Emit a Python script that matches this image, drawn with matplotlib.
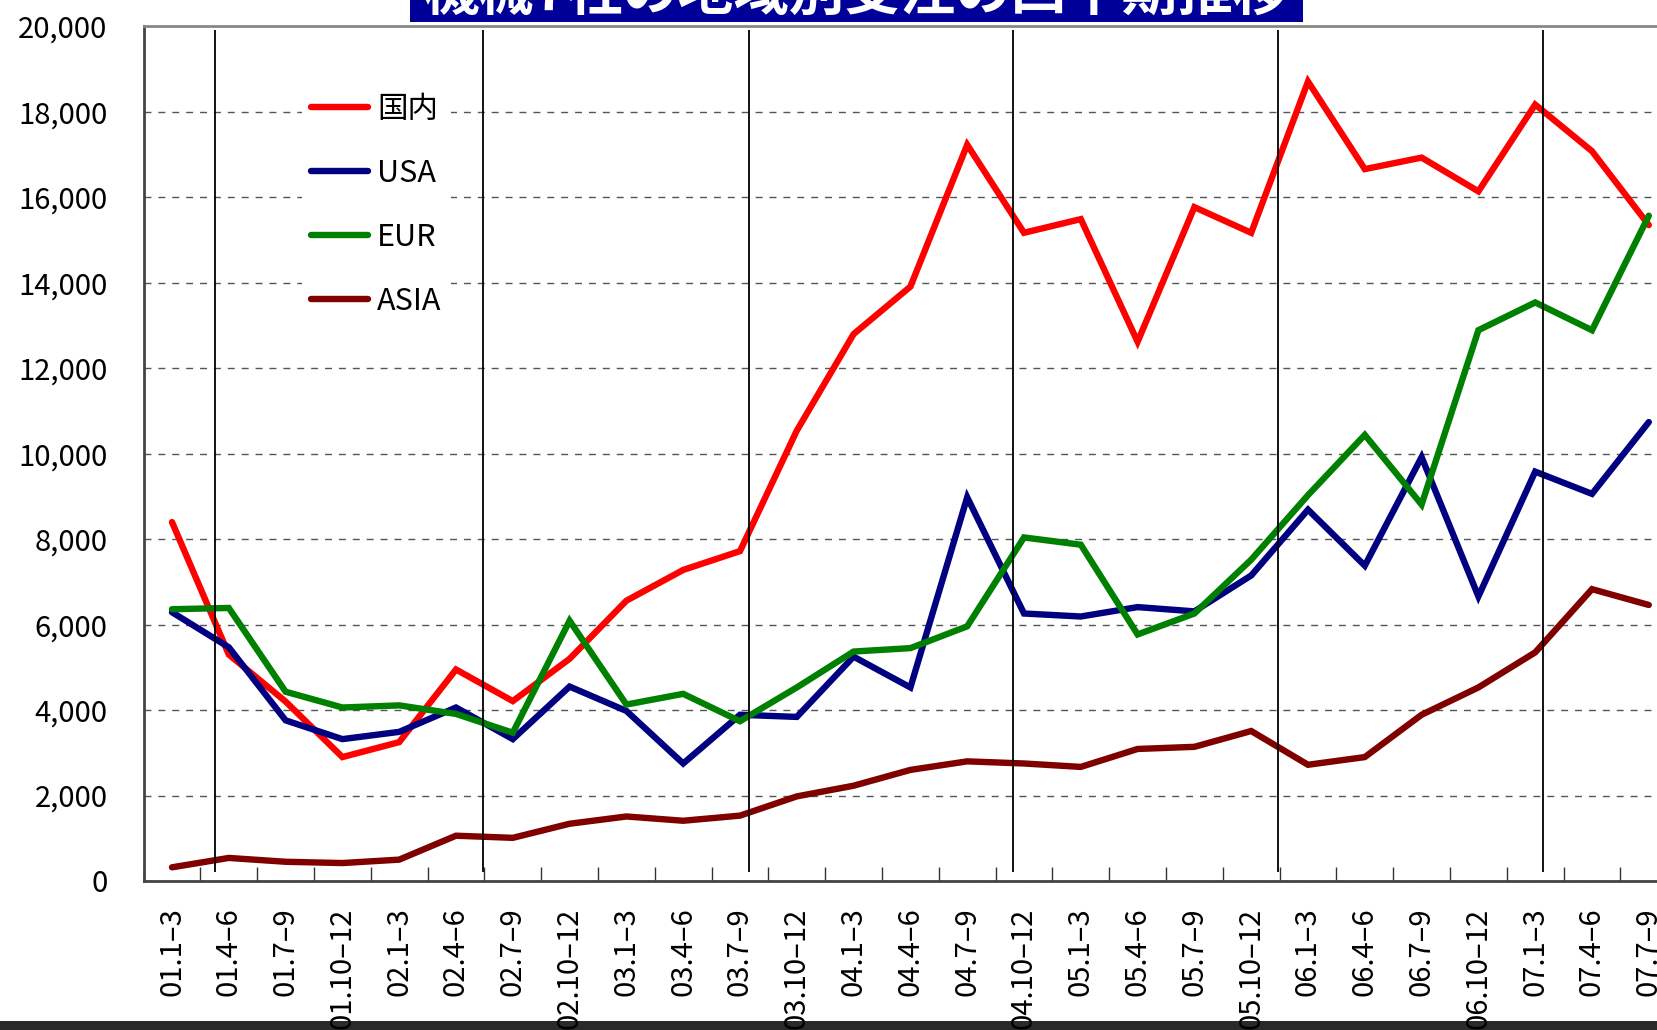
import numpy as np
import matplotlib as mpl
mpl.use('Agg')
from matplotlib import pyplot as plt
from matplotlib.patches import Rectangle
from matplotlib.ticker import FuncFormatter, MultipleLocator

plt.rcParams['font.family'] = ['Noto Sans CJK JP', 'DejaVu Sans']

# quarters 2001 Q1 .. 2007 Q3
quarters = ['01.1–3', '01.4–6', '01.7–9', '01.10–12',
            '02.1–3', '02.4–6', '02.7–9', '02.10–12',
            '03.1–3', '03.4–6', '03.7–9', '03.10–12',
            '04.1–3', '04.4–6', '04.7–9', '04.10–12',
            '05.1–3', '05.4–6', '05.7–9', '05.10–12',
            '06.1–3', '06.4–6', '06.7–9', '06.10–12',
            '07.1–3', '07.4–6', '07.7–9']

domestic = [8400, 5300, 4200, 2900, 3250, 4950, 4210, 5200, 6560, 7280, 7720,
            10540, 12800, 13910, 17230, 15170, 15490, 12620, 15770, 15170,
            18710, 16660, 16930, 16140, 18170, 17080, 15350]
usa = [6290, 5470, 3760, 3320, 3490, 4060, 3320, 4550, 3980, 2750, 3890,
       3840, 5250, 4530, 8980, 6260, 6190, 6410, 6310, 7150,
       8690, 7380, 9920, 6660, 9580, 9060, 10740]
eur = [6360, 6390, 4430, 4060, 4110, 3910, 3470, 6090, 4130, 4380, 3740,
       4530, 5370, 5450, 5960, 8040, 7870, 5770, 6260, 7520,
       9030, 10440, 8810, 12890, 13540, 12890, 15570]
asia = [320, 540, 450, 420, 500, 1060, 1010, 1340, 1510, 1410, 1530,
        1980, 2230, 2600, 2800, 2750, 2670, 3090, 3140, 3510,
        2720, 2900, 3890, 4530, 5350, 6830, 6460]

series = [('国内', domestic, '#ff0000'),
          ('USA', usa, '#000080'),
          ('EUR', eur, '#008000'),
          ('ASIA', asia, '#800000')]

# year divider lines (pasted over the chart, not quite on the grid)
dividers = [0.76, 5.47, 10.15, 14.81, 19.48, 24.14]

title = '機械7社の地域別受注の四半期推移'

fig = plt.figure(figsize=(16.57, 10.30), dpi=100)
ax = fig.add_axes([143.6/1657, 149/1030, 1533.6/1657, 854.6/1030])

x = np.arange(len(quarters))
for name, vals, col in series:
    ax.plot(x, vals, color=col, lw=4.6, label=name, solid_capstyle='round',
            solid_joinstyle='miter', zorder=3)

ax.vlines(dividers, 200, 19920, color='black', lw=1.3, zorder=5)

ax.set_xlim(-0.5, len(quarters) - 0.5)
ax.set_ylim(0, 20000)
ax.yaxis.set_major_locator(MultipleLocator(2000))
ax.yaxis.set_major_formatter(FuncFormatter(lambda v, p: '{:,.0f}'.format(v)))
ax.grid(axis='y', color='#555555', ls=(0, (5, 5)), lw=1.0)
ax.set_axisbelow(True)

ax.set_xticks(x)
ax.set_xticklabels(quarters, rotation=90, va='top', ha='center')
ax.set_xticks(np.arange(-0.5, len(quarters), 1), minor=True)
ax.tick_params(axis='x', which='major', length=0, pad=19, labelsize=21)
ax.tick_params(axis='x', which='minor', direction='in', length=10, width=1, color='#333333')
ax.tick_params(axis='y', direction='in', length=0, pad=26, labelsize=21)

for s in ['left', 'bottom']:
    ax.spines[s].set_color('#444444')
    ax.spines[s].set_linewidth(2)
ax.spines['top'].set_color('#888888')
ax.spines['top'].set_linewidth(2)
ax.spines['right'].set_visible(False)

leg = ax.legend(loc='upper left', bbox_to_anchor=(0.0935, 0.95), frameon=True,
                fontsize=22, handlelength=1.85, handletextpad=0.3,
                labelspacing=1.08, borderpad=0.3, fancybox=False)
leg.get_frame().set_edgecolor('none')
leg.get_frame().set_facecolor('white')
leg.get_frame().set_alpha(1)

# cut-off title banner
fig.patches.append(Rectangle((410/1657, 1008/1030), 893/1657, 0.05,
                             transform=fig.transFigure, facecolor='#000099',
                             edgecolor='none', zorder=10))
fig.text(856/1657, 1.006, title, color='white', fontsize=40, fontweight='bold',
         ha='center', va='center', zorder=11)

# dark strip along bottom edge
fig.patches.append(Rectangle((0, 0), 1, 9/1030, transform=fig.transFigure,
                             facecolor='#2a2a2a', edgecolor='none', zorder=-1))

fig.savefig('out.png', dpi=100)
plt.close(fig)
